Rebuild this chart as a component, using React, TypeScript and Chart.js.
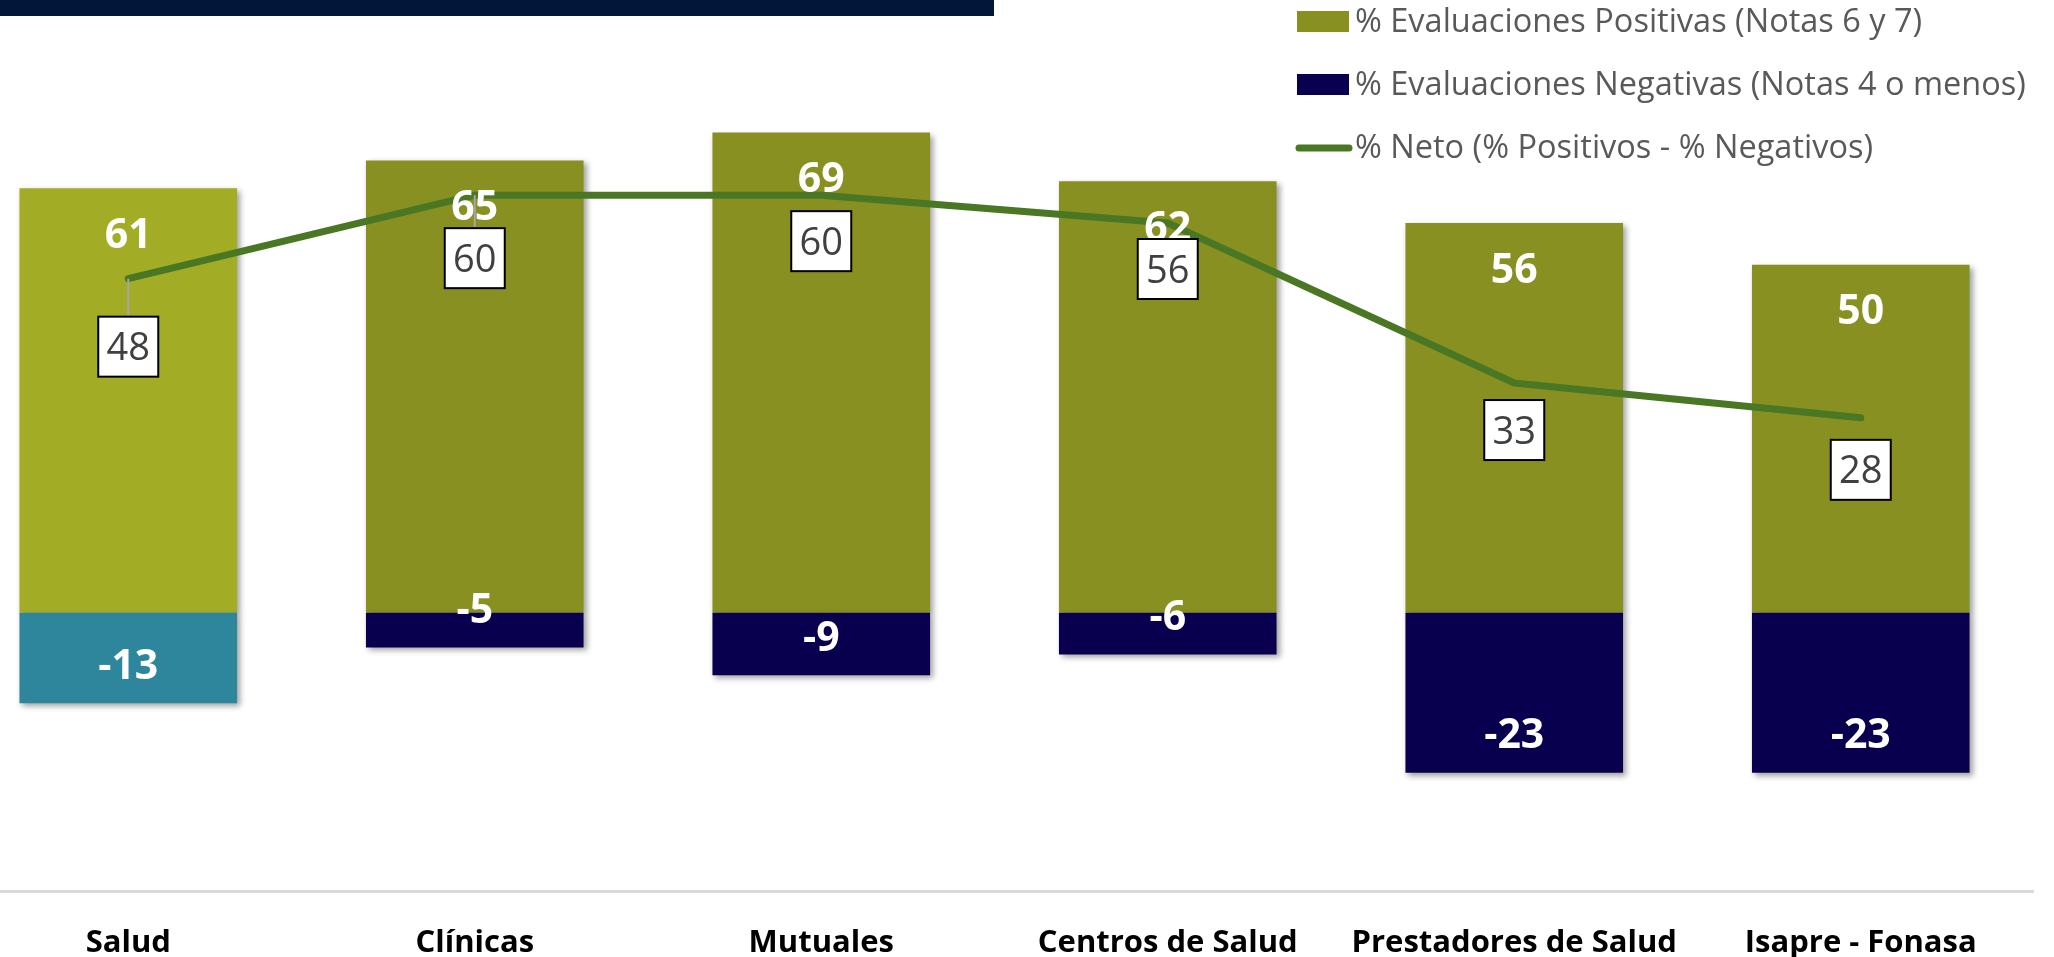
import React, { useEffect, useRef } from 'react';
import { Chart, registerables } from 'chart.js';

Chart.register(...registerables);

// ---------- data ----------
const categories = ['Salud', 'Clínicas', 'Mutuales', 'Centros de Salud', 'Prestadores de Salud', 'Isapre - Fonasa'];
const positivos = [61, 65, 69, 62, 56, 50];
const negativos = [-13, -5, -9, -6, -23, -23];
const neto = [48, 60, 60, 56, 33, 28];
const seriesLabels = [
  '% Evaluaciones Positivas (Notas 6 y 7)',
  '% Evaluaciones Negativas (Notas 4 o menos)',
  '% Neto (% Positivos - % Negativos)',
];
const yMin = -40;
const yMax = 80;

// ---------- styles ----------
const positiveColors = ['#A2AD25', '#879021', '#879021', '#879021', '#879021', '#879021'];
const negativeColors = ['#2E869C', '#08004F', '#08004F', '#08004F', '#08004F', '#08004F'];
const legendColors = ['#889022', '#0A0050', '#4A7723'];
const lineColor = '#4A7723';
const netLabelOffsets = [68, 63, 46, 46, 47, 52];
const CANVAS_SHIFT = 45;
const FONT = "'Open Sans', 'Noto Sans', sans-serif";

const shadowPlugin = {
  id: 'barShadow',
  beforeDatasetDraw(chart: any, args: any) {
    const ds = chart.data.datasets[args.index];
    if (ds.type === 'line') return;
    const ctx = chart.ctx;
    ctx.save();
    ctx.shadowColor = 'rgba(0,0,0,0.38)';
    ctx.shadowBlur = 6;
    ctx.shadowOffsetX = 3;
    ctx.shadowOffsetY = 3;
  },
  afterDatasetDraw(chart: any, args: any) {
    const ds = chart.data.datasets[args.index];
    if (ds.type === 'line') return;
    chart.ctx.restore();
  },
};

const labelsPlugin = {
  id: 'valueLabels',
  afterDatasetsDraw(chart: any) {
    const ctx = chart.ctx;
    const posMeta = chart.getDatasetMeta(0);
    const negMeta = chart.getDatasetMeta(1);
    const netMeta = chart.getDatasetMeta(2);
    ctx.save();
    ctx.textAlign = 'center';
    ctx.textBaseline = 'alphabetic';
    ctx.fillStyle = '#FFFFFF';
    const bold = 41;
    ctx.font = `bold ${bold}px ${FONT}`;
    const digitHalf = 0.357 * bold;
    posMeta.data.forEach((bar: any, i: number) => {
      const cy = bar.y + 45;
      ctx.fillText(String(positivos[i]), bar.x, cy + digitHalf);
    });
    negMeta.data.forEach((bar: any, i: number) => {
      const cy = bar.y - 39;
      ctx.fillText(String(negativos[i]), bar.x, cy + digitHalf);
    });
    // net labels in boxes
    const bw = 60;
    const bh = 60;
    netMeta.data.forEach((pt: any, i: number) => {
      const off = netLabelOffsets[i];
      const cx = pt.x;
      const cy = pt.y + off;
      const top = cy - bh / 2;
      if (top - pt.y > 22) {
        ctx.strokeStyle = '#A6A6A6';
        ctx.lineWidth = 2;
        ctx.beginPath();
        ctx.moveTo(cx, pt.y);
        ctx.lineTo(cx, top);
        ctx.stroke();
      }
      ctx.fillStyle = '#FFFFFF';
      ctx.fillRect(cx - bw / 2, top, bw, bh);
      ctx.strokeStyle = '#000000';
      ctx.lineWidth = 2;
      ctx.strokeRect(cx - bw / 2, top, bw, bh);
      ctx.fillStyle = '#404040';
      const fs = 38;
      ctx.font = `${fs}px ${FONT}`;
      ctx.fillText(String(neto[i]), cx, cy + 0.357 * fs);
    });
    ctx.restore();
  },
};

const legendPlugin = {
  id: 'customLegend',
  afterDraw(chart: any) {
    const ctx = chart.ctx;
    const rows = [21.5, 84.5, 148];
    ctx.save();
    ctx.font = `32.5px ${FONT}`;
    ctx.textAlign = 'left';
    ctx.textBaseline = 'middle';
    seriesLabels.forEach((label, i) => {
      const y = rows[i];
      const x0 = 1297 + CANVAS_SHIFT;
      if (i < 2) {
        ctx.fillStyle = legendColors[i];
        ctx.fillRect(x0, y - 10.5, 52, 21);
      } else {
        ctx.strokeStyle = legendColors[i];
        ctx.lineWidth = 7;
        ctx.lineCap = 'round';
        ctx.beginPath();
        ctx.moveTo(x0 + 2, y);
        ctx.lineTo(x0 + 52, y);
        ctx.stroke();
      }
      ctx.fillStyle = '#595959';
      ctx.fillText(label, 1355 + CANVAS_SHIFT, y + 1);
    });
    ctx.restore();
  },
};

export default function App() {
  const canvasRef = useRef<HTMLCanvasElement | null>(null);

  useEffect(() => {
    if (!canvasRef.current) return;
    const chart = new Chart(canvasRef.current, {
      type: 'bar',
      data: {
        labels: categories,
        datasets: [
          {
            type: 'bar',
            label: seriesLabels[0],
            data: positivos,
            backgroundColor: positiveColors,
            stack: 'bars',
            order: 3,
            categoryPercentage: 1,
            barPercentage: 0.628,
          },
          {
            type: 'bar',
            label: seriesLabels[1],
            data: negativos,
            backgroundColor: negativeColors,
            stack: 'bars',
            order: 2,
            categoryPercentage: 1,
            barPercentage: 0.628,
          },
          {
            type: 'line',
            label: seriesLabels[2],
            data: neto,
            borderColor: lineColor,
            borderWidth: 7,
            borderCapStyle: 'round',
            borderJoinStyle: 'round',
            pointRadius: 0,
            tension: 0,
            stack: 'net',
            order: 1,
          } as any,
        ],
      },
      options: {
        animation: false,
        responsive: true,
        maintainAspectRatio: false,
        layout: { padding: { top: 56, bottom: 0, left: 0, right: 0 } },
        plugins: {
          legend: { display: false },
          tooltip: { enabled: false },
          title: { display: false },
        },
        scales: {
          x: {
            stacked: true,
            grid: { display: false },
            border: { display: true, color: '#D9D9D9', width: 3 },
            ticks: {
              color: '#000000',
              padding: 26,
              font: { family: FONT, size: 31, weight: 'bold' },
              maxRotation: 0,
              autoSkip: false,
            },
            afterFit(scale: any) {
              scale.height = 66;
            },
          },
          y: {
            stacked: true,
            display: false,
            min: yMin,
            max: yMax,
          },
        },
      },
      plugins: [shadowPlugin, labelsPlugin, legendPlugin],
    });
    return () => chart.destroy();
  }, []);

  return (
    <div style={{ position: 'fixed', left: 0, top: 0, width: 2054, height: 957, overflow: 'hidden', background: '#FFFFFF' }}>
      <div style={{ position: 'absolute', left: 0, top: 0, width: 994, height: 16, background: '#011638' }} />
      <div style={{ position: 'absolute', left: -CANVAS_SHIFT, top: 0, width: 2079, height: 957 }}>
        <canvas ref={canvasRef} />
      </div>
    </div>
  );
}
